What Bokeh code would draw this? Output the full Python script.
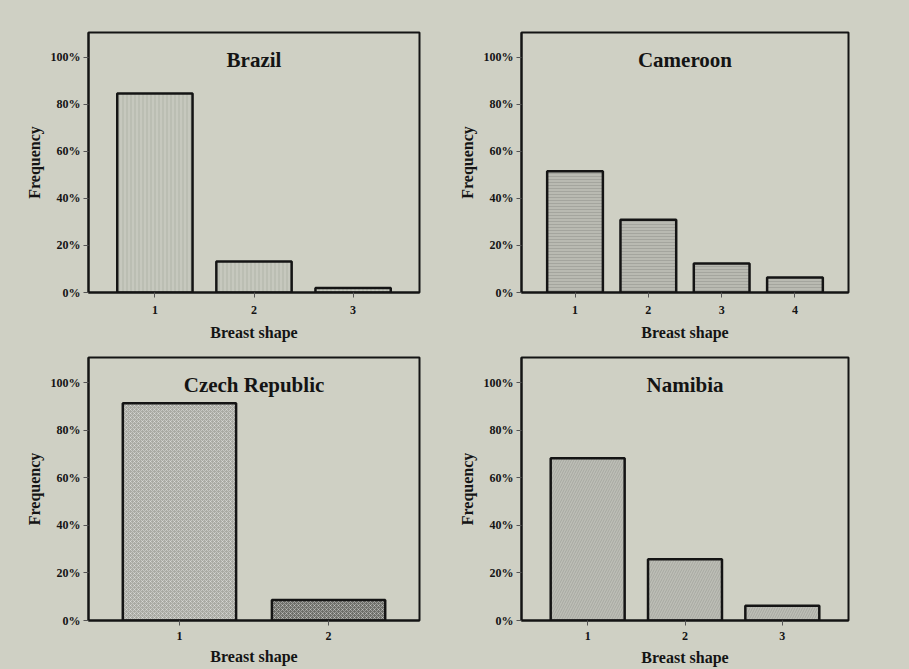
from bokeh.plotting import figure
from bokeh.layouts import gridplot
from bokeh.models import Range1d, FixedTicker, PrintfTickFormatter, Label
from bokeh.embed import file_html
from bokeh.resources import INLINE

# ---- data (percent of respondents per breast shape) ----
brazil_shapes = [1, 2, 3]
brazil_freq = [84.6, 13.2, 1.9]

cameroon_shapes = [1, 2, 3, 4]
cameroon_freq = [51.6, 30.9, 12.3, 6.4]

czech_shapes = [1, 2]
czech_freq = [91.4, 8.6]

namibia_shapes = [1, 2, 3]
namibia_freq = [68.2, 25.8, 6.2]

y_ticks = [0, 20, 40, 60, 80, 100]

BG = "#cfd0c4"
INK = "#141414"
FONT = "Liberation Serif"


def panel(title, shapes, freq, width, height, borders, fill, hatch, hatch_color,
          hatch_scale, pad=0.67, extra_fill=None, ytop=110.6,
          tick_standoff=8, xlab_standoff=7):
    bl, br, bt, bb = borders
    n = len(shapes)
    p = figure(width=width, height=height, output_backend="svg",
               toolbar_location=None, min_border_left=bl, min_border_right=br,
               min_border_top=bt, min_border_bottom=bb,
               x_range=Range1d(1 - pad, n + pad), y_range=Range1d(0, ytop))
    p.background_fill_color = BG
    p.border_fill_color = BG
    p.outline_line_color = INK
    p.outline_line_width = 2
    p.grid.visible = False

    fills = [fill] * n
    if extra_fill:
        for k, v in extra_fill.items():
            fills[k] = v
    p.vbar(x=shapes, top=freq, width=0.76, bottom=0,
           fill_color=fills, line_color=INK, line_width=2.5,
           hatch_pattern=hatch, hatch_color=hatch_color, hatch_alpha=0.35,
           hatch_scale=hatch_scale, hatch_weight=1)

    # axes
    p.yaxis.ticker = FixedTicker(ticks=y_ticks)
    p.yaxis.formatter = PrintfTickFormatter(format="%d%%")
    p.xaxis.ticker = FixedTicker(ticks=shapes)
    for ax in (p.xaxis[0], p.yaxis[0]):
        ax.axis_line_color = INK
        ax.axis_line_width = 2
        ax.major_tick_in = 0
        ax.major_tick_out = 5
        ax.major_tick_line_color = "#555555"
        ax.minor_tick_line_color = None
        ax.major_label_text_font = FONT
        ax.major_label_text_font_style = "bold"
        ax.major_label_text_font_size = "12px"
        ax.major_label_text_color = INK
        ax.axis_label_text_font = FONT
        ax.axis_label_text_font_style = "bold"
        ax.axis_label_text_font_size = "16px"
        ax.axis_label_text_color = INK
    p.xaxis.axis_label = "Breast shape"
    p.yaxis.axis_label = "Frequency"
    p.xaxis.major_label_standoff = tick_standoff
    p.xaxis.axis_label_standoff = xlab_standoff
    p.yaxis.major_label_standoff = 3
    p.yaxis.axis_label_standoff = 5

    p.add_layout(Label(x=(1 + n) / 2, y=99, text=title, text_align="center",
                       text_baseline="middle", text_font=FONT,
                       text_font_style="bold", text_font_size="21px",
                       text_color=INK))
    return p


p1 = panel("Brazil", brazil_shapes, brazil_freq, 455, 343, (88, 36, 32, 50),
           "#c6c8be", "vertical_line", "#8a8c84", 4)
p2 = panel("Cameroon", cameroon_shapes, cameroon_freq, 454, 343, (57, 61, 28, 50),
           "#b9bab2", "horizontal_line", "#7d7e78", 3, pad=0.73)
p3 = panel("Czech Republic", czech_shapes, czech_freq, 455, 326, (88, 31, 14, 46),
           "#a9aaa3", "diagonal_cross", "#ffffff", 4, pad=0.61,
           extra_fill={1: "#6e6f6a"}, tick_standoff=6, xlab_standoff=5)
p4 = panel("Namibia", namibia_shapes, namibia_freq, 454, 326, (57, 60, 11, 49),
           "#bdbeb6", "right_diagonal_line", "#7f807a", 5, pad=0.68,
           tick_standoff=6, xlab_standoff=6)

grid = gridplot([[p1, p2], [p3, p4]], toolbar_location=None)
grid.styles = {"background-color": BG}

open("out.html", "w").write(file_html(grid, INLINE))
